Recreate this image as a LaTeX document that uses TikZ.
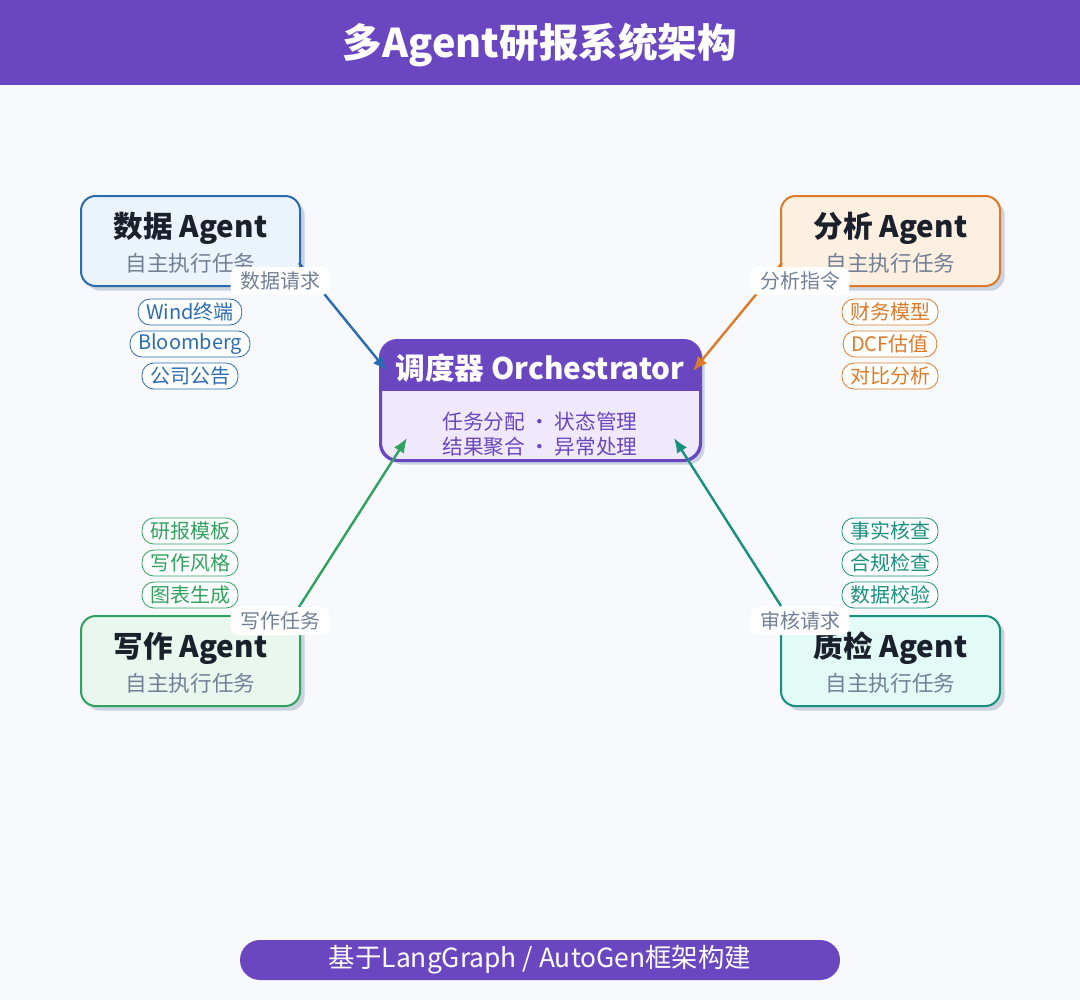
\documentclass[tikz,border=0pt]{standalone}
\usepackage{fontspec}
\setmainfont{Noto Sans CJK SC}
\usetikzlibrary{arrows.meta,shadows,calc}

\definecolor{purplec}{HTML}{6B46C1}
\definecolor{orchfill}{HTML}{F0E9FD}
\definecolor{bgc}{HTML}{F7F9FC}
\definecolor{shadowc}{HTML}{CBD3E0}
\definecolor{darktext}{HTML}{1A202C}
\definecolor{graytext}{HTML}{718096}
\definecolor{bluec}{HTML}{2B6CB0}
\definecolor{bluefill}{HTML}{EBF3FC}
\definecolor{orangec}{HTML}{DD7A2A}
\definecolor{orangefill}{HTML}{FEF0E1}
\definecolor{greenc}{HTML}{2FA25E}
\definecolor{greenfill}{HTML}{E9F7EE}
\definecolor{tealc}{HTML}{17907F}
\definecolor{tealfill}{HTML}{E3FBF6}

\tikzset{
  agentbox/.style={draw=#1, line width=1.5pt, rounded corners=11pt, inner sep=0pt,
    minimum width=164.25pt, minimum height=67.5pt,
    drop shadow={shadow xshift=3.5pt, shadow yshift=-3.5pt, fill=shadowc, opacity=1}},
  agenttitle/.style={text=darktext, font=\fontsize{22.2}{26}\selectfont\bfseries},
  agentsub/.style={text=graytext, font=\fontsize{16.2}{19}\selectfont},
  tag/.style={draw=#1, text=#1, fill=white, line width=0.6pt, rounded corners=9pt,
    minimum height=19.5pt, inner xsep=6pt, inner ysep=0pt, font=\fontsize{15}{17}\selectfont},
  flow/.style={draw=#1, line width=1.8pt, -{Latex[length=11pt,width=9pt]}},
  flowlabel/.style={fill=white, text=graytext, rounded corners=6pt, minimum height=21pt,
    inner xsep=7pt, inner ysep=0pt, font=\fontsize{15}{17}\selectfont}
}

\begin{document}
\begin{tikzpicture}[x=0.75pt,y=-0.75pt]
% canvas and title bar
\fill[bgc] (0,0) rectangle (1080,1000);
\useasboundingbox (0,0) rectangle (1080,1000);
\fill[purplec] (0,0) rectangle (1080,85);
\node[text=white, font=\fontsize{29.7}{34}\selectfont\bfseries] (title) at (540,45) {多Agent研报系统架构};

% agent boxes
\node[agentbox=bluec, fill=bluefill] (data) at (190.5,241) {};
\node[agentbox=orangec, fill=orangefill] (ana) at (890.5,241) {};
\node[agentbox=greenc, fill=greenfill] (write) at (190.5,661) {};
\node[agentbox=tealc, fill=tealfill] (qc) at (890.5,661) {};
\foreach \n/\t in {data/数据, ana/分析, write/写作, qc/质检}{
  \node[agenttitle] at ($(\n.center)+(0,-13)$) {\t\ Agent};
  \node[agentsub] at ($(\n.center)+(0,22)$) {自主执行任务};
}

% orchestrator
\node[draw=purplec, fill=orchfill, line width=1.5pt, rounded corners=13pt, inner sep=0pt,
  minimum width=239.25pt, minimum height=89.25pt,
  drop shadow={shadow xshift=3.5pt, shadow yshift=-3.5pt, fill=shadowc, opacity=1}] (orch) at (540.5,400.5) {};
\begin{scope}
  \clip[rounded corners=13pt] (orch.north west) rectangle (orch.south east);
  \fill[purplec] (orch.north west) rectangle ($(orch.north east)+(0,51)$);
\end{scope}
\draw[purplec, line width=1.5pt, rounded corners=13pt] (orch.north west) rectangle (orch.south east);
\node[text=white, font=\fontsize{22.3}{26}\selectfont\bfseries] (orchtitle) at (540,368) {调度器 Orchestrator};
\node[text=purplec, font=\fontsize{15.5}{18}\selectfont] (orchl1) at (540,422) {任务分配 · 状态管理};
\node[text=purplec, font=\fontsize{15.5}{18}\selectfont] (orchl2) at (540,447) {结果聚合 · 异常处理};

% tool tags
\foreach \t [count=\i] in {Wind终端, Bloomberg, 公司公告}
  \node[tag=bluec] (dtag\i) at (190,280+32*\i) {\t};
\foreach \t [count=\i] in {财务模型, DCF估值, 对比分析}
  \node[tag=orangec] (atag\i) at (890,280+32*\i) {\t};
\foreach \t [count=\i] in {研报模板, 写作风格, 图表生成}
  \node[tag=greenc] (wtag\i) at (190,499+32*\i) {\t};
\foreach \t [count=\i] in {事实核查, 合规检查, 数据校验}
  \node[tag=tealc] (qtag\i) at (890,499+32*\i) {\t};

% flows to the orchestrator
\draw[flow=bluec] ($(data.south east)+(-2,-24)$) -- ($(orch.north west)+(7,31)$);
\draw[flow=orangec] ($(ana.south west)+(2,-24)$) -- ($(orch.north east)+(-8,31)$);
\draw[flow=greenc] ($(write.north east)+(-2,-8)$) -- ($(orch.south west)+(27,-23)$);
\draw[flow=tealc] ($(qc.north west)+(1,-9)$) -- ($(orch.south east)+(-27,-23)$);
\node[flowlabel] (l1) at (280,281) {数据请求};
\node[flowlabel] (l2) at (800,281) {分析指令};
\node[flowlabel] (l3) at (280,621) {写作任务};
\node[flowlabel] (l4) at (800,621) {审核请求};

% footer
\node[fill=purplec, rounded corners=15pt, minimum width=450pt, minimum height=30pt,
  text=white, font=\fontsize{19.8}{23}\selectfont] (foot) at (540,960) {基于LangGraph / AutoGen框架构建};
\end{tikzpicture}
\end{document}
